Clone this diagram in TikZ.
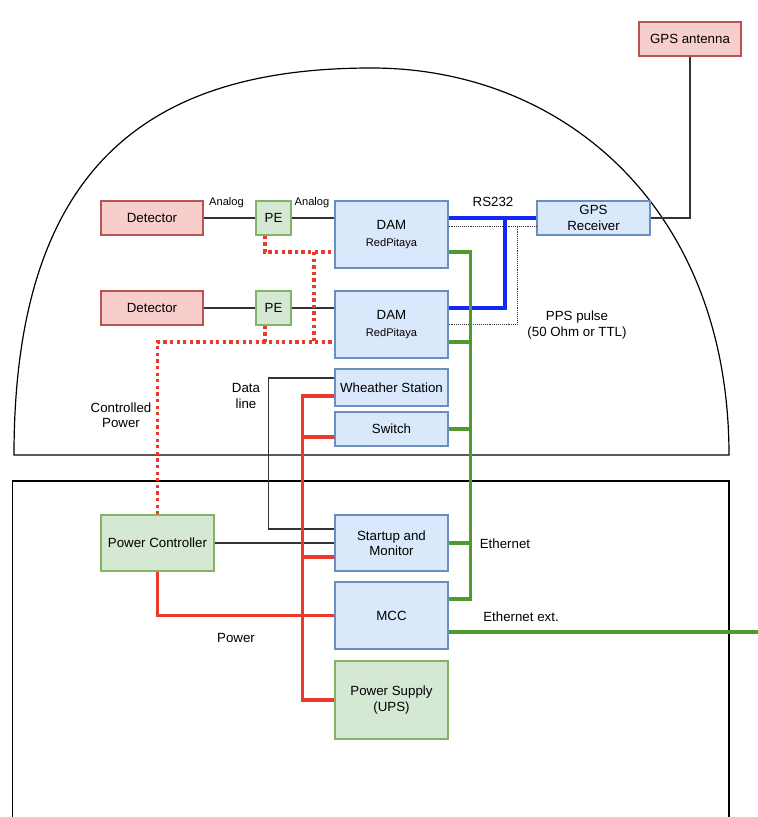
\documentclass[tikz,border=0pt]{standalone}
\usepackage{fontspec}
\setmainfont{Liberation Sans}
\usetikzlibrary{calc}
\definecolor{redfill}{HTML}{F8CECC}
\definecolor{redline}{HTML}{B85450}
\definecolor{greenfill}{HTML}{D5E8D4}
\definecolor{greenline}{HTML}{82B366}
\definecolor{bluefill}{HTML}{DAE8FC}
\definecolor{blueline}{HTML}{6C8EBF}
\definecolor{pwrred}{HTML}{EA3A2E}
\definecolor{ethgreen}{HTML}{4E9A2C}
\definecolor{rsblue}{HTML}{1428F5}
\newcommand{\bigfs}{\fontsize{13.3}{15.5}\selectfont}
\newcommand{\smallfs}{\fontsize{11.1}{13}\selectfont}
\tikzset{
  box/.style={draw, line width=1.2pt, inner sep=0pt, align=center, font=\bigfs},
  redbox/.style={box, fill=redfill, draw=redline},
  greenbox/.style={box, fill=greenfill, draw=greenline},
  bluebox/.style={box, fill=bluefill, draw=blueline},
  wire/.style={draw=black!80, line width=1.1pt},
  pwline/.style={draw=pwrred, line width=3.6pt},
  ethline/.style={draw=ethgreen, line width=3.4pt},
  rsline/.style={draw=rsblue, line width=3.6pt},
  ppsline/.style={draw=black!80, line width=0.9pt, densely dotted},
  cpwline/.style={draw=pwrred, line width=3.3pt, dash pattern=on 3.3pt off 3.3pt},
  lbl/.style={align=center, font=\bigfs, inner sep=0pt},
  slbl/.style={align=center, font=\smallfs, inner sep=0pt}
}
\begin{document}
\begin{tikzpicture}[x=1pt,y=-1pt]
\useasboundingbox (0,0) rectangle (758,817);
\fill[white] (0,0) rectangle (758,817);

% dome and building outline
\draw[line width=1.2pt] (14,455) .. controls (14,160) and (155,68) .. (371.5,68)
   .. controls (565,68) and (729,210) .. (729,455) -- cycle;
\draw[line width=1.2pt] (12.5,817) |- (729,481) -- (729,817);

% nodes
\node[redbox, minimum width=102pt, minimum height=34pt] (ant) at (690,39) {GPS antenna};
\node[redbox, minimum width=102pt, minimum height=34pt] (det1) at (152,218) {Detector};
\node[greenbox, minimum width=35pt, minimum height=34pt] (pe1) at (273.5,218) {PE};
\node[bluebox, minimum width=113pt, minimum height=67pt] (dam1) at (391.5,234.5) {DAM\\[1pt]{\smallfs RedPitaya}};
\node[redbox, minimum width=102pt, minimum height=34pt] (det2) at (152,308) {Detector};
\node[greenbox, minimum width=35pt, minimum height=34pt] (pe2) at (273.5,308) {PE};
\node[bluebox, minimum width=113pt, minimum height=67pt] (dam2) at (391.5,324.5) {DAM\\[1pt]{\smallfs RedPitaya}};
\node[bluebox, minimum width=113pt, minimum height=34pt] (gpsr) at (593.5,218) {GPS\\Receiver};
\node[bluebox, minimum width=113pt, minimum height=37pt] (ws) at (391.5,387.5) {Wheather Station};
\node[bluebox, minimum width=113pt, minimum height=34pt] (sw) at (391.5,429) {Switch};
\node[bluebox, minimum width=113pt, minimum height=56pt] (sm) at (391.5,543) {Startup and\\Monitor};
\node[bluebox, minimum width=113pt, minimum height=67pt] (mcc) at (391.5,615.5) {MCC};
\node[greenbox, minimum width=113pt, minimum height=78pt] (ups) at (391.5,700) {Power Supply\\(UPS)};
\node[greenbox, minimum width=113pt, minimum height=56pt] (pc) at (157.5,543) {Power Controller};

% helper coordinates
\coordinate (bj) at (505,218);
\coordinate (pj) at (517,226);
\coordinate (cj1) at (314,252);
\coordinate (cj2) at (314,342);
\coordinate (extend) at (758,632);

% analog lines
\draw[wire] (det1.east) -- (pe1.west);
\draw[wire] (pe1.east) -- ([yshift=16.5pt]dam1.west);
\draw[wire] (det2.east) -- (pe2.west);
\draw[wire] (pe2.east) -- ([yshift=16.5pt]dam2.west);

% antenna
\draw[wire] (gpsr.east) -| (ant.south);

% PPS dotted
\draw[ppsline] ([yshift=8.5pt]dam1.east) -- ([yshift=-8pt]gpsr.west);
\draw[ppsline] (dam2.east) -| (pj);

% RS232
\draw[rsline] ([yshift=16.5pt]dam1.east) -- (gpsr.west);
\draw[rsline] ([yshift=16.5pt]dam2.east) -| (bj);

% ethernet
\draw[ethline] ([yshift=-17.5pt]dam1.east) -- ++(22,0) |- ([yshift=16.5pt]mcc.east);
\draw[ethline] ([yshift=-17.5pt]dam2.east) -- ++(22,0);
\draw[ethline] (sw.east) -- ++(22,0);
\draw[ethline] (sm.east) -- ++(22,0);
\draw[ethline] ([yshift=-16.5pt]mcc.east) -- (extend);

% data lines
\draw[wire] ([yshift=9.5pt]ws.west) -- ++(-66,0) |- ([yshift=14pt]sm.west);
\draw[wire] (pc.east) -- (sm.west);

% controlled power
\draw[cpwline] ([xshift=-8.5pt]pe1.south) |- ([yshift=-17.5pt]dam1.west);
\draw[cpwline] (cj1) -- (cj2);
\draw[cpwline] ([xshift=-8.5pt]pe2.south) -- ++(0,17);
\draw[cpwline] (pc.north) |- ([yshift=-17.5pt]dam2.west);

% power
\draw[pwline] ([yshift=-8.5pt]ws.west) -- ++(-32,0) |- (ups.west);
\draw[pwline] ([yshift=-8pt]sw.west) -- ++(-32,0);
\draw[pwline] ([yshift=-14pt]sm.west) -- ++(-32,0);
\draw[pwline] (mcc.west) -- ++(-32,0);
\draw[pwline] (pc.south) |- (mcc.west);

% labels
\node[slbl] (la1) at (226.5,203) {Analog};
\node[slbl] (la2) at (312,203) {Analog};
\node[lbl] (lrs) at (493,202) {RS232};
\node[lbl] (lpps) at (577,325) {PPS pulse\\(50 Ohm or TTL)};
\node[lbl] (lcp) at (121,415) {Controlled\\Power};
\node[lbl] (ldl) at (246,396) {Data\\line};
\node[lbl] (leth) at (505,544) {Ethernet};
\node[lbl] (lext) at (521,617) {Ethernet ext.};
\node[lbl] (lpw) at (236,638) {Power};
\end{tikzpicture}
\end{document}
